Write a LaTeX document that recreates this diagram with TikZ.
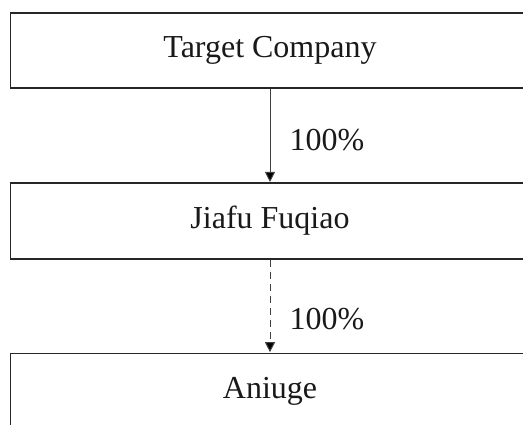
\documentclass[tikz,border=0pt]{standalone}
\usepackage{fontspec}
\setmainfont{Liberation Serif}
\usetikzlibrary{arrows.meta}
\begin{document}
\begin{tikzpicture}[x=1pt,y=-1pt,
  box/.style={draw=black!85, line width=1.6pt, minimum width=519pt, minimum height=75.5pt, inner sep=0pt, text=black!90, font=\fontsize{32}{38}\selectfont},
  lbl/.style={anchor=base west, inner sep=0pt, text=black!90, font=\fontsize{32}{38}\selectfont},
  conn/.style={draw=black!75, line width=1pt, -{Triangle[length=10pt,width=10pt,fill=black]}, shorten >=0.5pt}]
\useasboundingbox (0,0) rectangle (523,424);
\clip (0,0) rectangle (523,424);
\node[box] (top) at (270,50.5) {Target Company};
\node[box] (mid) at (270,221) {Jiafu Fuqiao};
\node[box] (bot) at (270,391.2) {Aniuge};
\draw[conn] (top.south) -- (mid.north);
\draw[conn, dash pattern=on 7pt off 5pt] (mid.south) -- (bot.north);
\node[lbl] (p1) at (289.5,150) {100\%};
\node[lbl] (p2) at (289.5,329.5) {100\%};
\end{tikzpicture}
\end{document}
